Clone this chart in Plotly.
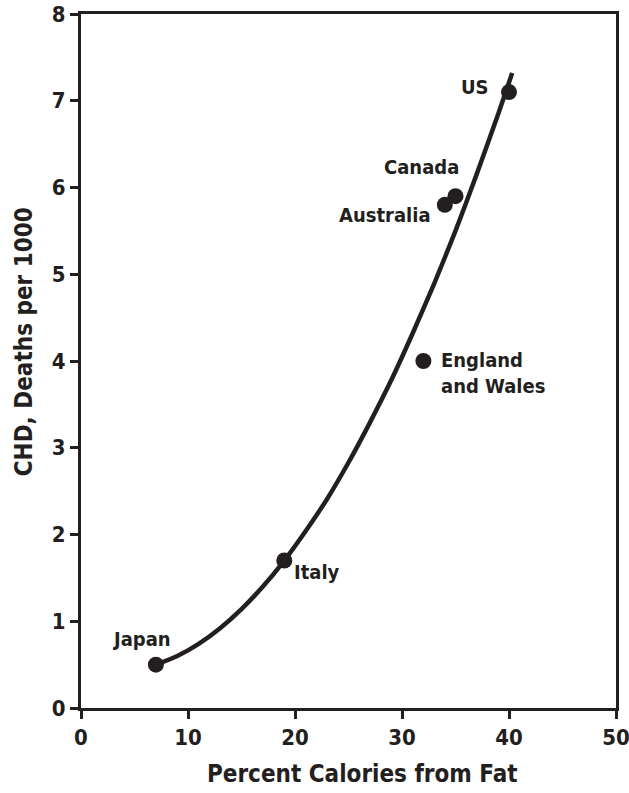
import plotly.graph_objects as go

# Country data (percent calories from fat, CHD deaths per 1000)
countries = ["Japan", "Italy", "England<br>and Wales", "Australia", "Canada", "US"]
fat_pct = [7, 19, 32, 34, 35, 40]
chd_deaths = [0.5, 1.7, 4.0, 5.8, 5.9, 7.1]

# Fitted curve, points
curve_x = [7, 9, 11, 13, 15, 17, 19, 21, 23, 25, 27, 29, 31, 33, 35, 37, 39, 40.3]
curve_y = [0.5, 0.60, 0.74, 0.92, 1.14, 1.40, 1.70, 2.04, 2.41, 2.83, 3.29, 3.78,
           4.32, 4.89, 5.50, 6.16, 6.85, 7.32]

x_ticks = [0, 10, 20, 30, 40, 50]
y_ticks = [0, 1, 2, 3, 4, 5, 6, 7, 8]

x_title = "Percent Calories from Fat"
y_title = "CHD, Deaths per 1000"

INK = "#231f20"
FONT = "DejaVu Sans Condensed, Roboto, sans-serif"

fig = go.Figure()
fig.add_trace(go.Scatter(x=curve_x, y=curve_y, mode="lines",
                         line=dict(color=INK, width=4.5, shape="spline", smoothing=0.6),
                         hoverinfo="skip", showlegend=False))
fig.add_trace(go.Scatter(x=fat_pct, y=chd_deaths, mode="markers",
                         marker=dict(color=INK, size=16),
                         text=countries, showlegend=False))

# label placement (style only): anchor, pixel shifts
label_style = {
    "Japan": dict(xanchor="center", xshift=-14, yshift=26),
    "Italy": dict(xanchor="left", xshift=8, yshift=-11),
    "England<br>and Wales": dict(xanchor="left", xshift=16, yshift=-12, align="left"),
    "Australia": dict(xanchor="right", xshift=-12, yshift=-10),
    "Canada": dict(xanchor="center", xshift=-34, yshift=29),
    "US": dict(xanchor="right", xshift=-18, yshift=5),
}
for name, xv, yv in zip(countries, fat_pct, chd_deaths):
    fig.add_annotation(x=xv, y=yv, text=name, showarrow=False, yanchor="middle",
                       font=dict(family=FONT, size=20, color=INK, weight="bold"),
                       **label_style[name])

# axis titles (placed as annotations to match the original offsets)
title_font = dict(family=FONT, size=24, color=INK, weight="bold")
fig.add_annotation(xref="paper", yref="paper", x=0.527, y=0, yshift=-66,
                   xanchor="center", yanchor="middle", text=x_title,
                   showarrow=False, font=title_font)
fig.add_annotation(xref="paper", yref="paper", x=0, y=0.527, xshift=-57,
                   xanchor="center", yanchor="middle", text=y_title, textangle=-90,
                   showarrow=False, font=title_font)

axis_common = dict(showline=True, linecolor=INK, linewidth=3, mirror=True,
                   ticks="outside", ticklen=8, tickwidth=3, tickcolor=INK,
                   showgrid=False, zeroline=False, automargin=False,
                   ticklabeloverflow="allow",
                   tickfont=dict(family=FONT, size=22, color=INK, weight="bold"))

fig.update_xaxes(range=[0, 50], tickvals=x_ticks, ticktext=[str(v) for v in x_ticks],
                 **axis_common)
fig.update_yaxes(range=[0, 8], tickvals=y_ticks, ticktext=[str(v) for v in y_ticks],
                 **axis_common)

fig.update_layout(width=629, height=793,
                  margin=dict(l=81, r=13, t=14, b=85),
                  plot_bgcolor="white", paper_bgcolor="white")

fig.write_html(
    "out.html",
    config={"displayModeBar": False},
    post_script=("document.body.style.margin='0';"
                 "document.body.style.overflow='hidden';"
                 "document.documentElement.style.overflow='hidden';"
                 "var gd=document.getElementById('{plot_id}');"
                 "Plotly.relayout(gd,{'title.text':''});"),
)
